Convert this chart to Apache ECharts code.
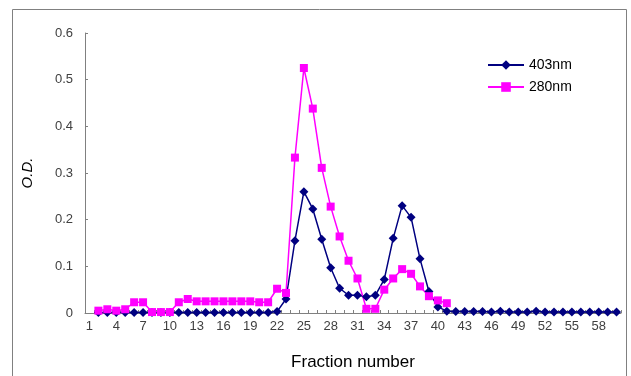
<!DOCTYPE html>
<html>
<head>
<meta charset="utf-8">
<script src="https://cdn.jsdelivr.net/npm/echarts@6/dist/echarts.min.js"></script>
<style>html,body{margin:0;padding:0;background:#fff}#c{width:631px;height:376px}</style>
</head>
<body>
<div id="c"></div>
<script>
var fractions = ['1','2','3','4','5','6','7','8','9','10','11','12','13','14','15','16','17','18','19','20',
  '21','22','23','24','25','26','27','28','29','30','31','32','33','34','35','36','37','38','39','40',
  '41','42','43','44','45','46','47','48','49','50','51','52','53','54','55','56','57','58','59','60'];
var od403 = [null,0.001,0.001,0.001,0.001,0.001,0.001,0.001,0.001,0.001,0.001,0.001,0.001,0.001,0.001,0.001,0.001,0.001,0.001,0.001,
  0.001,0.003,0.030,0.155,0.260,0.223,0.158,0.097,0.053,0.038,0.038,0.035,0.038,0.072,0.160,0.230,0.205,0.116,0.046,0.013,
  0.004,0.003,0.003,0.003,0.003,0.002,0.004,0.002,0.002,0.002,0.004,0.002,0.002,0.002,0.002,0.002,0.002,0.002,0.002,0.002];
var od280 = [null,0.005,0.008,0.005,0.008,0.023,0.023,0.002,0.002,0.002,0.023,0.030,0.025,0.025,0.025,0.025,0.025,0.025,0.025,0.023,
  0.023,0.052,0.043,0.333,0.525,0.438,0.311,0.228,0.164,0.112,0.074,0.009,0.009,0.050,0.074,0.094,0.084,0.057,0.036,0.027,
  0.021,null,null,null,null,null,null,null,null,null,null,null,null,null,null,null,null,null,null,null];
var seriesNames = ['403nm','280nm'];

var FONT = 'Liberation Sans, Arial, sans-serif';
var chart = echarts.init(document.getElementById('c'));
chart.setOption({
  animation: false,
  backgroundColor: '#fff',
  graphic: [{
    type: 'rect', silent: true,
    shape: {x: 12.5, y: 9.5, width: 614, height: 400},
    style: {fill: 'none', stroke: '#808080', lineWidth: 1}
  }],
  grid: {left: 85, right: 10, top: 33, bottom: 61},
  legend: {
    orient: 'vertical', left: 482, top: 53,
    itemWidth: 36, itemHeight: 12, itemGap: 8,
    textStyle: {fontFamily: FONT, fontSize: 14, color: '#000'},
    data: seriesNames
  },
  xAxis: {
    type: 'category', data: fractions, boundaryGap: true,
    name: 'Fraction number', nameLocation: 'middle', nameGap: 41,
    nameTextStyle: {fontFamily: FONT, fontSize: 17, color: '#000'},
    axisLine: {lineStyle: {color: '#808080', width: 1}},
    axisTick: {show: true, inside: true, length: 3, interval: 0, lineStyle: {color: '#808080'}},
    axisLabel: {interval: 2, fontFamily: FONT, fontSize: 13, color: '#404040', margin: 7}
  },
  yAxis: {
    type: 'value', min: 0, max: 0.6, interval: 0.1,
    name: 'O.D.', nameLocation: 'middle', nameGap: 50,
    nameTextStyle: {fontFamily: FONT, fontSize: 15, fontStyle: 'italic', color: '#000'},
    axisLine: {show: true, lineStyle: {color: '#808080', width: 1}},
    axisTick: {show: true, inside: true, length: 3, lineStyle: {color: '#808080'}},
    splitLine: {show: false},
    axisLabel: {fontFamily: FONT, fontSize: 13, color: '#404040', margin: 12}
  },
  series: [{
    name: seriesNames[0], type: 'line', data: od403,
    symbol: 'diamond', symbolSize: 9, showAllSymbol: true,
    itemStyle: {color: '#000080'}, lineStyle: {color: '#000080', width: 1.5}
  }, {
    name: seriesNames[1], type: 'line', data: od280,
    symbol: 'rect', symbolSize: 8, showAllSymbol: true,
    itemStyle: {color: '#FF00FF'}, lineStyle: {color: '#FF00FF', width: 1.5}
  }]
});
</script>
</body>
</html>
